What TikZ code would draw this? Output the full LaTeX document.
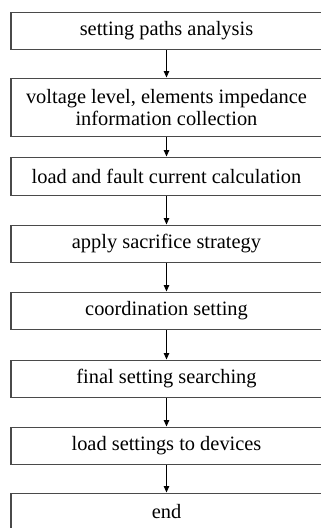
\documentclass[tikz,border=0pt]{standalone}
\usepackage{fontspec}
\setmainfont{Liberation Serif}
\usetikzlibrary{arrows.meta,positioning}
\definecolor{ink}{HTML}{000000}
\definecolor{frame}{HTML}{4A4A4A}
\tikzset{
  stepbox/.style={draw=frame,line width=1.1pt,fill=white,inner sep=3pt,align=center,
    minimum width=311pt,font=\fontsize{20.4}{22}\selectfont,text=ink},
  ar/.style={-{Triangle[length=6.5pt,width=5.5pt]},draw=ink,line width=.9pt},
}
\begin{document}
\begin{tikzpicture}[x=1pt,y=1pt]
  \useasboundingbox (0,0) rectangle (321,-528);
  \clip (0,0) rectangle (321,-528);
  \node[stepbox,minimum height=37.5pt,anchor=north] (b1) at (166.5,-11.5) {setting paths analysis};
  \node[stepbox,minimum height=58.5pt,anchor=north] (b2) at (166.5,-77.5) {voltage level, elements impedance\\information collection};
  \node[stepbox,minimum height=38.5pt,anchor=north] (b3) at (166.5,-156.5) {load and fault current calculation};
  \node[stepbox,minimum height=37.5pt,anchor=north] (b4) at (166.5,-224.5) {apply sacrifice strategy};
  \node[stepbox,minimum height=37.5pt,anchor=north] (b5) at (166.5,-291.5) {coordination setting};
  \node[stepbox,minimum height=37.5pt,anchor=north] (b6) at (166.5,-359.5) {final setting searching};
  \node[stepbox,minimum height=37pt,anchor=north] (b7) at (166.5,-426.5) {load settings to devices};
  \node[stepbox,minimum height=37pt,anchor=north] (b8) at (166.5,-492.5) {end};
  \foreach \a/\b in {1/2,2/3,3/4,4/5,5/6,6/7,7/8}
    \draw[ar] (b\a) -- (b\b);
\end{tikzpicture}
\end{document}
